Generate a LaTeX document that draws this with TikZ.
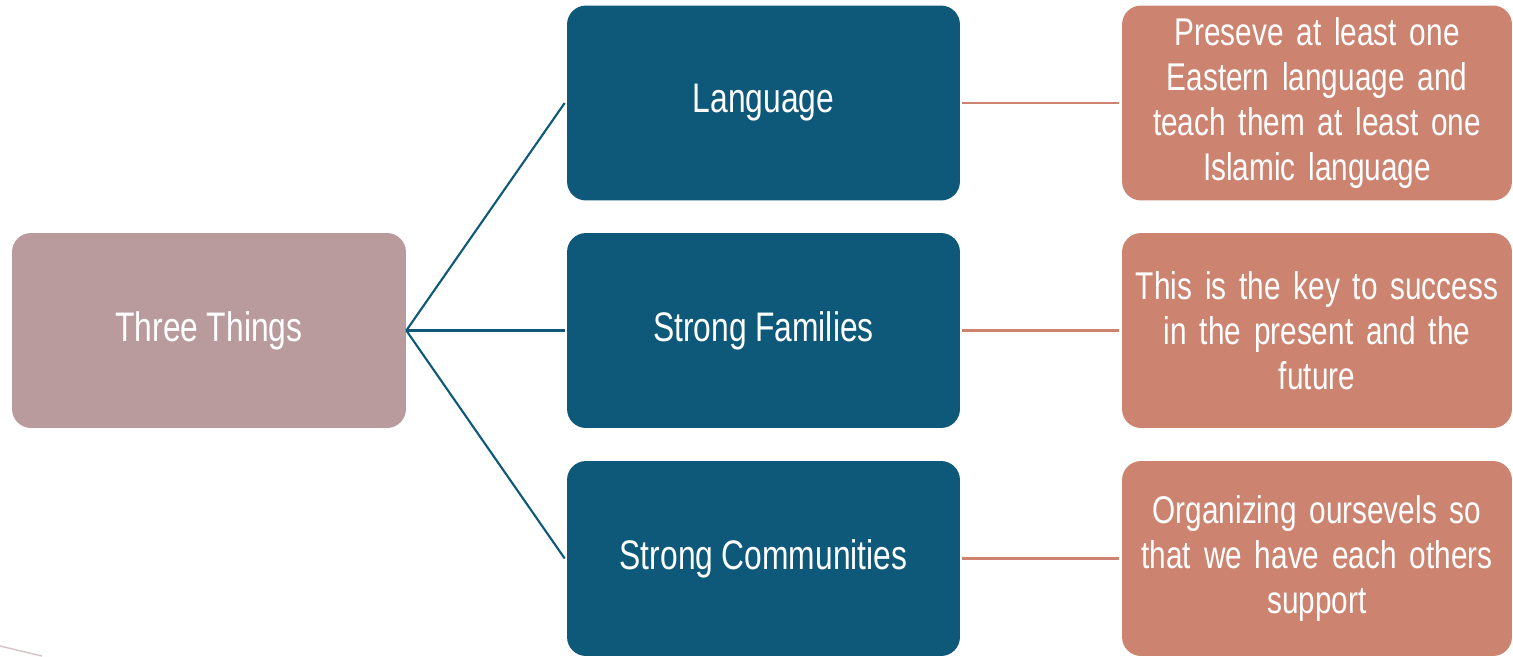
\documentclass[tikz,border=0pt]{standalone}
\usepackage{fontspec}
\setmainfont{Liberation Sans}[FakeStretch=0.77,WordSpace={0.95,0,0}]
\definecolor{rootpink}{HTML}{B99B9E}
\definecolor{midblue}{HTML}{0E5879}
\definecolor{noteorange}{HTML}{CC8470}

\begin{document}
\begin{tikzpicture}[x=0.02cm,y=-0.02cm,
        rootbox/.style={fill=rootpink, rounded corners=0.38cm, minimum width=7.88cm, minimum height=3.9cm, text=white, font=\fontsize{23.5}{27}\selectfont},
        midbox/.style={fill=midblue, rounded corners=0.38cm, minimum width=7.86cm, minimum height=3.9cm, text=white, font=\fontsize{23.5}{27}\selectfont},
        notebox/.style={fill=noteorange, rounded corners=0.38cm, minimum width=7.8cm, minimum height=3.9cm, inner xsep=0.1cm, text=white, align=center, text width=7.6cm, font=\fontsize{22}{25.5}\selectfont}]
        \useasboundingbox(0,0)rectangle(1513,656);
        % faint curve, bottom left
        \draw[rootpink!60, line width=0.8pt](0,646)--(42,656);
        % boxes
        \node[rootbox](three)at(209,330.5){Three Things};
        \node[midbox](lang)at(763.5,103){Language};
        \node[midbox](fam)at(763.5,330.5){Strong Families};
        \node[midbox](comm)at(763.5,558.5){Strong Communities};
        \node[notebox](langnote)at(1317,103){Preseve at least one\\Eastern language and\\teach them at least one\\Islamic language};
        \node[notebox](famnote)at(1317,330.5){This is the key to success\\in the present and the\\future};
        \node[notebox](commnote)at(1317,558.5){Organizing oursevels so\\that we have each others\\support};
        % connectors
        \draw[midblue, line width=1.2pt](three.east)--([xshift=-0.04cm]lang.west);
        \draw[midblue, line width=1.2pt](three.east)--([xshift=-0.04cm]fam.west);
        \draw[midblue, line width=1.2pt](three.east)--([xshift=-0.04cm]comm.west);
        \draw[noteorange, line width=1.4pt]([xshift=0.04cm]lang.east)--([xshift=-0.06cm]langnote.west);
        \draw[noteorange, line width=1.4pt]([xshift=0.04cm]fam.east)--([xshift=-0.06cm]famnote.west);
        \draw[noteorange, line width=1.4pt]([xshift=0.04cm]comm.east)--([xshift=-0.06cm]commnote.west);
    \end{tikzpicture}
\end{document}
